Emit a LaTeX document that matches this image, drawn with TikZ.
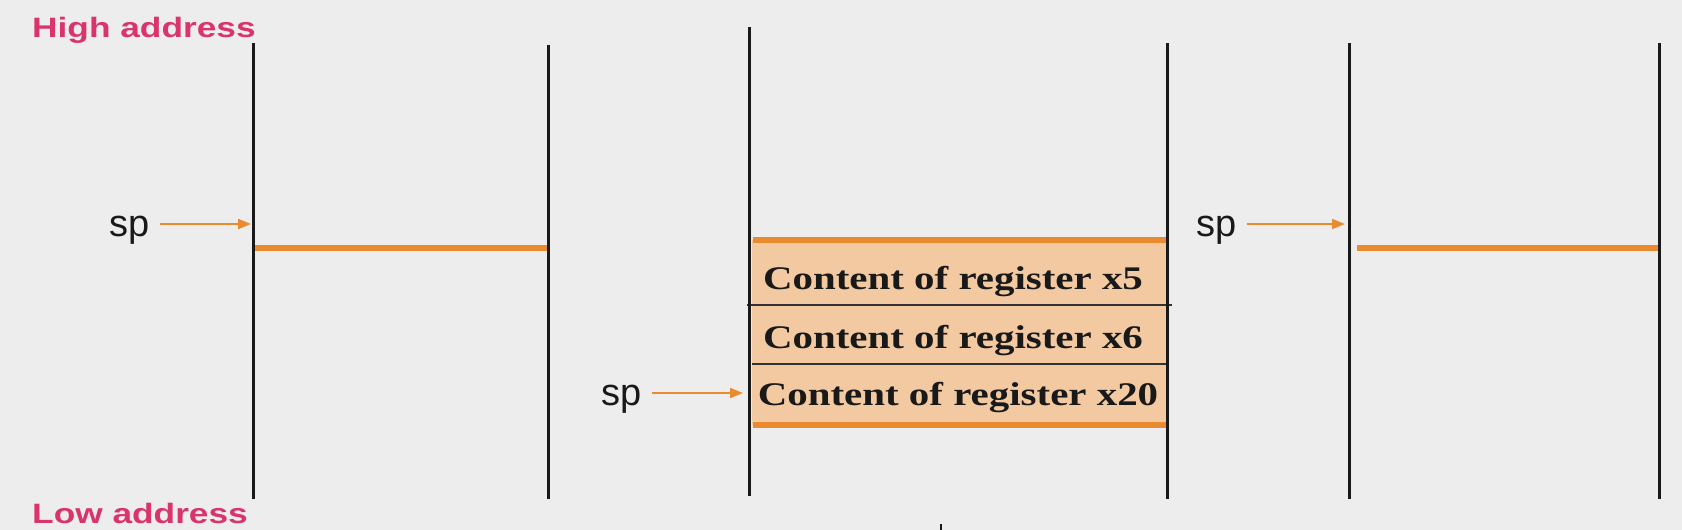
\documentclass[tikz,border=0pt]{standalone}
\usepackage{fontspec}
\setmainfont{Liberation Sans}
\newfontfamily\regfont{Liberation Serif}
\usetikzlibrary{arrows.meta}
\definecolor{bgc}{HTML}{EDEDED}
\definecolor{orng}{HTML}{E98B2E}
\definecolor{peach}{HTML}{F3C9A1}
\definecolor{pinkc}{HTML}{D9346C}
\begin{document}
\begin{tikzpicture}[x=1pt,y=-1pt,
  wall/.style={line width=3pt, draw=black!90},
  orangebar/.style={line width=5.5pt, draw=orng},
  sparrow/.style={-{Triangle[length=13pt,width=10pt]}, draw=orng, line width=2pt},
  splabel/.style={font=\fontsize{38}{42}\selectfont, text=black!90, inner sep=0pt, anchor=base},
  addr/.style={font=\fontsize{28}{32}\selectfont\bfseries, text=pinkc, inner sep=0pt, anchor=base west},
  reglabel/.style={font=\regfont\fontsize{33}{36}\selectfont\bfseries, text=black!90, inner sep=0pt, anchor=base},
  sepline/.style={line width=1.3pt, draw=black!80}]
\fill[bgc] (0,0) rectangle (1682,530);
\useasboundingbox (0,0) rectangle (1682,530);

% wall coordinates
\coordinate (w1t) at (253,43);  \coordinate (w1b) at (253,499);
\coordinate (w2t) at (548,45);  \coordinate (w2b) at (548,499);
\coordinate (w3t) at (749,27);  \coordinate (w3b) at (749,496);
\coordinate (w4t) at (1167,43); \coordinate (w4b) at (1167,499);
\coordinate (w5t) at (1349,43); \coordinate (w5b) at (1349,499);
\coordinate (w6t) at (1659,43); \coordinate (w6b) at (1659,499);

% stacked block in the middle stack
\fill[peach] (752,240) rectangle (1166,425);
\draw[orangebar] (753,240) -- (1166,240);
\draw[orangebar] (753,425) -- (1166,425);
\draw[sepline] (747,305) -- (1172,305);
\draw[sepline] (752,364) -- (1166,364);

% empty-stack markers
\draw[orangebar] (253,248) -- (548,248);
\draw[orangebar] (1357,248) -- (1659,248);

% walls
\foreach \w in {1,...,6} { \draw[wall] (w\w t) -- (w\w b); }

% register contents
\node[reglabel] (r1) at (953,289) {\scalebox{1.24}[1]{Content of register x5}};
\node[reglabel] (r2) at (953,348) {\scalebox{1.24}[1]{Content of register x6}};
\node[reglabel] (r3) at (958,405) {\scalebox{1.24}[1]{Content of register x20}};

% stack pointers
\coordinate (a1) at (251,224);
\coordinate (a2) at (743,393);
\coordinate (a3) at (1345,224);
\node[splabel] (sp1) at (130,236) {sp};
\node[splabel] (sp2) at (622,405) {sp};
\node[splabel] (sp3) at (1217,236) {sp};
\draw[sparrow, shorten <=10pt] (sp1.east |- a1) -- (a1);
\draw[sparrow, shorten <=10pt] (sp2.east |- a2) -- (a2);
\draw[sparrow, shorten <=10pt] (sp3.east |- a3) -- (a3);

% address labels
\node[addr] (hi) at (32,37) {\scalebox{1.26}[1]{High address}};
\node[addr] (lo) at (32,523) {\scalebox{1.26}[1]{Low address}};

% stray tick at bottom
\draw[line width=2pt, draw=black!90] (941,524) -- (941,530);
\end{tikzpicture}
\end{document}
